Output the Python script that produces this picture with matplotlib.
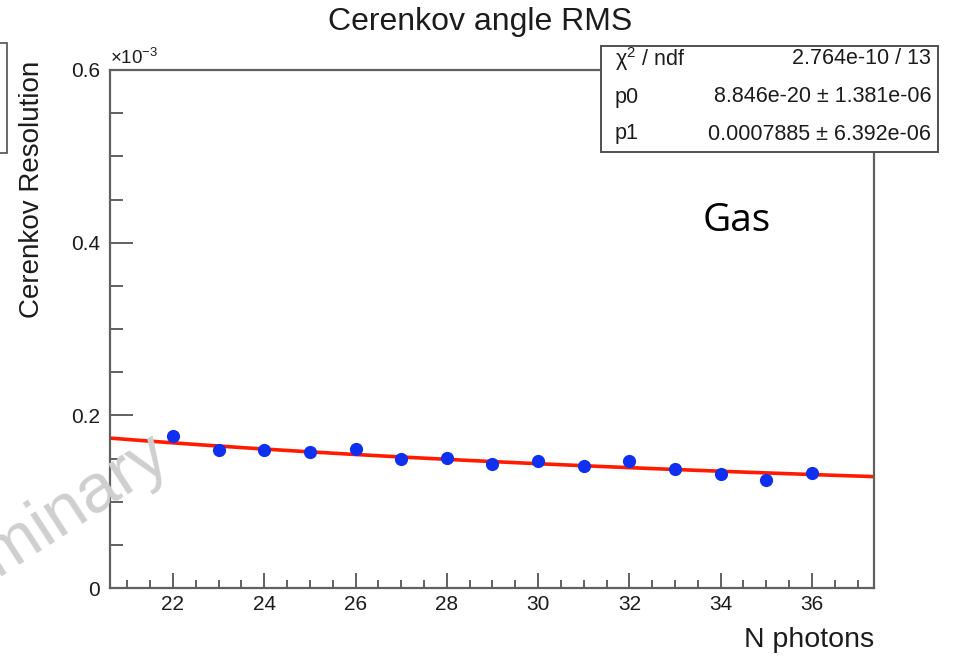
import numpy as np
import matplotlib
matplotlib.use("Agg")
import matplotlib.pyplot as plt
from matplotlib.patches import Rectangle
from matplotlib.ticker import MultipleLocator, FuncFormatter

# data (resolution in rad)
n_photons = [22, 23, 24, 25, 26, 27, 28, 29, 30, 31, 32, 33, 34, 35, 36]
resolution = [0.176e-3, 0.160e-3, 0.160e-3, 0.157e-3, 0.161e-3, 0.150e-3, 0.151e-3,
              0.1436e-3, 0.1475e-3, 0.1417e-3, 0.1475e-3, 0.1375e-3, 0.132e-3,
              0.125e-3, 0.1328e-3]

# fit result p0 + p1/sqrt(N) as printed in the stats box
p0 = 8.846e-20
p1 = 0.0007885
stats_rows = [('χ$^{2}$ / ndf', '2.764e-10 / 13'),
              ('p0', '8.846e-20 ± 1.381e-06'),
              ('p1', '0.0007885 ± 6.392e-06')]

xlim = (20.62, 37.36)
ylim = (0, 0.6e-3)

plt.rcParams['font.family'] = ['Liberation Sans', 'DejaVu Sans']
plt.rcParams['mathtext.fontset'] = 'custom'
plt.rcParams['mathtext.rm'] = 'Liberation Sans'
plt.rcParams['mathtext.it'] = 'Liberation Sans'

W, H = 957, 657
fig = plt.figure(figsize=(W / 100, H / 100), dpi=100)
ax = fig.add_axes([110 / W, 1 - 588 / H, (874 - 110) / W, (588 - 70) / H])

frame_col = '#606060'
text_col = '#1c1c1c'

xf = np.linspace(xlim[0], xlim[1], 200)
ax.plot(xf, p0 + p1 / np.sqrt(xf), color='#ff1a00', lw=2.6, zorder=2)
ax.plot(n_photons, resolution, 'o', color='#1030f0', ms=9.5, mec='none', zorder=3)

ax.set_xlim(*xlim)
ax.set_ylim(*ylim)
ax.xaxis.set_major_locator(MultipleLocator(2))
ax.xaxis.set_minor_locator(MultipleLocator(0.5))
ax.yaxis.set_major_locator(MultipleLocator(0.2e-3))
ax.yaxis.set_minor_locator(MultipleLocator(0.05e-3))
ax.yaxis.set_major_formatter(FuncFormatter(lambda v, _: '{:g}'.format(round(v * 1e3, 3))))

for s in ax.spines.values():
    s.set_color(frame_col)
    s.set_linewidth(1.6)
ax.tick_params(axis='both', which='both', direction='in', color=frame_col,
               width=1.4, labelsize=15, labelcolor=text_col)
ax.tick_params(axis='x', which='major', length=11, pad=5)
ax.tick_params(axis='x', which='minor', length=6)
ax.tick_params(axis='y', which='major', length=16.5, pad=7)
ax.tick_params(axis='y', which='minor', length=9.5)

ax.text(0, 1.003, r'$\times10^{-3}$', transform=ax.transAxes, fontsize=13.5,
        color=text_col, ha='left', va='bottom')

fig.text(480 / W, 1 - 22 / H, 'Cerenkov angle RMS', fontsize=23, color=text_col,
         ha='center', va='center')
fig.text(32 / W, 1 - 189 / H, 'Cerenkov Resolution', fontsize=20, color=text_col,
         rotation=90, ha='center', va='center')
fig.text(874 / W, 1 - 647 / H, 'N photons', fontsize=20.5, color=text_col,
         ha='right', va='baseline')

# stats box
bx0, by0, bx1, by1 = 601, 46, 938, 152
fig.patches.append(Rectangle((bx0 / W, 1 - by1 / H), (bx1 - bx0) / W, (by1 - by0) / H,
                             transform=fig.transFigure, facecolor='white',
                             edgecolor='#505050', lw=1.4, zorder=5))
row_y = [59, 97, 134]
for (left, right), yy in zip(stats_rows, row_y):
    fig.text(615 / W, 1 - yy / H, left, fontsize=15.5, color=text_col,
             ha='left', va='center', zorder=6)
    fig.text(931 / W, 1 - yy / H, right, fontsize=15.5, color=text_col,
             ha='right', va='center', zorder=6)

# leftover box edge at the left border
fig.patches.append(Rectangle((-20 / W, 1 - 153 / H), 27 / W, 110 / H,
                             transform=fig.transFigure, facecolor='none',
                             edgecolor='#505050', lw=1.2))

fig.text(737 / W, 1 - 221 / H, 'Gas', fontsize=28, family='Open Sans',
         color='black', ha='center', va='center')

fig.text(172 / W, 1 - 462 / H, 'Preliminary', fontsize=50, color='#cfcfcf',
         rotation=33, rotation_mode='anchor', ha='right', va='baseline', zorder=1)

fig.savefig('out.png', dpi=100)
